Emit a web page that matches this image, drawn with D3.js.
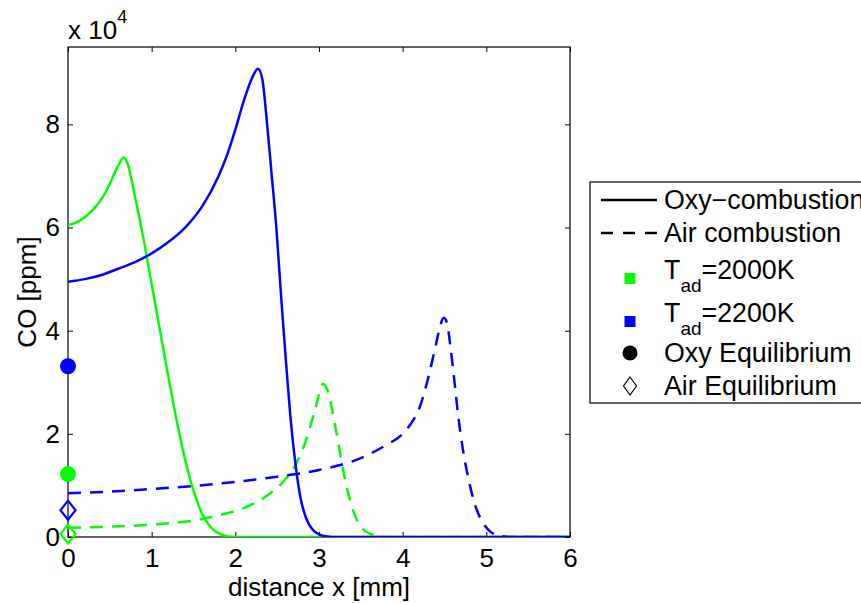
<!DOCTYPE html>
<html>
<head>
<meta charset="utf-8">
<script src="https://cdn.jsdelivr.net/npm/d3@7"></script>
<style>
  html, body { margin: 0; padding: 0; background: #fff; }
  svg { display: block; font-family: "Liberation Sans", Arial, Helvetica, sans-serif; }
</style>
</head>
<body>
<svg id="chart" width="861" height="603"></svg>
<script>
// ---------------- DATA (CO in ppm, distance in mm) ----------------
const xTicks = [0, 1, 2, 3, 4, 5, 6];
const yTicks = [0, 20000, 40000, 60000, 80000];
const yTickLabels = ["0", "2", "4", "6", "8"];

// Oxy-combustion, Tad = 2000K (green solid)
const oxy2000_x = [0, 0.1, 0.2, 0.3, 0.4, 0.5, 0.6, 0.67, 0.72, 0.8, 0.9, 1.0, 1.1, 1.2, 1.3, 1.4, 1.5, 1.6, 1.7, 1.8, 1.9, 2.0, 3.0, 4.0, 5.0, 6.0];
const oxy2000_y = [60500, 61000, 62000, 63500, 65500, 68500, 72000, 73600, 72000, 66000, 58000, 49000, 40000, 31000, 22500, 15000, 9000, 4600, 2000, 700, 150, 0, 0, 0, 0, 0];

// Oxy-combustion, Tad = 2200K (blue solid)
const oxy2200_x = [0, 0.2, 0.4, 0.6, 0.8, 1.0, 1.2, 1.4, 1.6, 1.8, 1.9, 2.0, 2.1, 2.2, 2.27, 2.32, 2.38, 2.43, 2.49, 2.55, 2.61, 2.66, 2.72, 2.78, 2.85, 2.92, 3.0, 3.1, 3.2, 4.0, 5.0, 6.0];
const oxy2200_y = [49500, 50000, 50800, 52000, 53300, 55000, 57200, 60000, 64000, 70000, 74000, 79000, 84500, 89000, 90800, 89000, 80000, 71000, 60000, 46000, 33000, 23000, 14000, 7500, 3500, 1500, 500, 100, 0, 0, 0, 0];

// Air combustion, Tad = 2000K (green dashed)
const air2000_x = [0, 0.5, 1.0, 1.5, 1.8, 2.1, 2.36, 2.56, 2.72, 2.85, 2.95, 3.05, 3.1, 3.2, 3.3, 3.4, 3.5, 3.6, 3.7, 3.8, 4.5, 5.0, 6.0];
const air2000_y = [1800, 2000, 2400, 3200, 4200, 5600, 7800, 10500, 14000, 19000, 24500, 29700, 28500, 21000, 12000, 5500, 2000, 700, 200, 0, 0, 0, 0];

// Air combustion, Tad = 2200K (blue dashed)
const air2200_x = [0, 0.5, 1.0, 1.5, 2.0, 2.5, 3.0, 3.5, 3.8, 4.0, 4.1, 4.2, 4.3, 4.4, 4.45, 4.49, 4.53, 4.57, 4.62, 4.66, 4.72, 4.79, 4.87, 4.95, 5.05, 5.15, 5.3, 6.0];
const air2200_y = [8500, 8800, 9300, 9900, 10700, 11700, 13000, 15300, 17800, 20000, 22000, 25000, 30500, 37500, 41000, 42500, 41500, 37000, 30000, 24000, 17000, 11000, 6000, 3000, 1000, 300, 0, 0];

// Equilibrium values at x = 0
const oxyEq = { x: 0, green: 12200, blue: 33100 };
const airEq = { x: 0, green: 600, blue: 5200 };

const legendLabels = ["Oxy\u2212combustion", "Air combustion", "T", "T", "Oxy Equilibrium", "Air Equilibrium"];

// ---------------- CHART ----------------
const GREEN = "#00ff00", BLUE = "#0000ff";
const svg = d3.select("#chart");
const L = 68, R = 570, T = 47, B = 537;
const FS = 26;
const LFS = 26.8;

const x = d3.scaleLinear().domain([0, 6]).range([L, R]);
const y = d3.scaleLinear().domain([0, 95000]).range([B, T]);

svg.append("defs").append("clipPath").attr("id", "clip")
  .append("rect").attr("x", L).attr("y", T).attr("width", R - L).attr("height", B - T);

// axes (ticks inside, box)
const tickLen = 5;
const axB = svg.append("g").attr("transform", `translate(0,${B})`)
  .call(d3.axisBottom(x).tickValues(xTicks).tickFormat(d3.format("d")).tickSizeInner(-tickLen).tickSizeOuter(0).tickPadding(12));
const axT = svg.append("g").attr("transform", `translate(0,${T})`)
  .call(d3.axisTop(x).tickValues(xTicks).tickFormat("").tickSizeInner(-tickLen).tickSizeOuter(0));
const axL = svg.append("g").attr("transform", `translate(${L},0)`)
  .call(d3.axisLeft(y).tickValues(yTicks).tickFormat((d, i) => yTickLabels[i]).tickSizeInner(-tickLen).tickSizeOuter(0).tickPadding(8));
const axR = svg.append("g").attr("transform", `translate(${R},0)`)
  .call(d3.axisRight(y).tickValues(yTicks).tickFormat("").tickSizeInner(-tickLen).tickSizeOuter(0));
[axB, axT, axL, axR].forEach(g => {
  g.select(".domain").remove();
  g.selectAll(".tick line").attr("stroke", "#000").attr("stroke-width", 1);
  g.selectAll("text").attr("font-size", FS).attr("fill", "#000").attr("font-family", "Liberation Sans, Arial, sans-serif");
});
svg.append("rect").attr("x", L).attr("y", T).attr("width", R - L).attr("height", B - T)
  .attr("fill", "none").attr("stroke", "#000").attr("stroke-width", 1.2);

// exponent label
const ex = svg.append("text").attr("x", L).attr("y", 39).attr("font-size", FS).attr("fill", "#000");
ex.append("tspan").text("x 10");
ex.append("tspan").attr("font-size", 18).attr("dy", -16).text("4");

// axis labels
svg.append("text").attr("x", (L + R) / 2).attr("y", 596).attr("text-anchor", "middle")
  .attr("font-size", FS).text("distance x [mm]");
svg.append("text").attr("transform", `translate(36,${(T + B) / 2}) rotate(-90)`).attr("text-anchor", "middle")
  .attr("font-size", FS).text("CO [ppm]");

// curves
const line = d3.line().x(d => x(d[0])).y(d => y(d[1])).curve(d3.curveMonotoneX);
const series = [
  { xs: oxy2000_x, ys: oxy2000_y, color: GREEN, dash: null },
  { xs: air2000_x, ys: air2000_y, color: GREEN, dash: "13,9" },
  { xs: oxy2200_x, ys: oxy2200_y, color: BLUE, dash: null },
  { xs: air2200_x, ys: air2200_y, color: BLUE, dash: "13,9" }
];
const plot = svg.append("g").attr("clip-path", "url(#clip)");
series.forEach(s => {
  plot.append("path").datum(d3.zip(s.xs, s.ys)).attr("d", line)
    .attr("fill", "none").attr("stroke", s.color).attr("stroke-width", 2.5)
    .attr("stroke-dasharray", s.dash).attr("stroke-linejoin", "round");
});

// equilibrium markers
const diamond = (cx, cy, hw, hh) => `M${cx},${cy - hh}L${cx + hw},${cy}L${cx},${cy + hh}L${cx - hw},${cy}Z`;
[[oxyEq.green, GREEN], [oxyEq.blue, BLUE]].forEach(([v, c]) => {
  svg.append("circle").attr("cx", x(oxyEq.x)).attr("cy", y(v)).attr("r", 8).attr("fill", c);
});
[[airEq.green, GREEN], [airEq.blue, BLUE]].forEach(([v, c]) => {
  svg.append("path").attr("d", diamond(x(airEq.x), y(v), 7.5, 9.5))
    .attr("fill", "none").attr("stroke", c).attr("stroke-width", 2.2);
});

// legend
const lg = svg.append("g");
lg.append("rect").attr("x", 590).attr("y", 182).attr("width", 300).attr("height", 221)
  .attr("fill", "#fff").attr("stroke", "#000").attr("stroke-width", 1.2);
const tx = 664, mx = 630;
const rows = [200, 233, 270, 313, 353, 386];
lg.append("line").attr("x1", 601).attr("x2", 657).attr("y1", rows[0]).attr("y2", rows[0]).attr("stroke", "#000").attr("stroke-width", 2.5);
lg.append("line").attr("x1", 601).attr("x2", 657).attr("y1", rows[1]).attr("y2", rows[1]).attr("stroke", "#000").attr("stroke-width", 2.5).attr("stroke-dasharray", "12,10");
lg.append("rect").attr("x", mx - 5.5).attr("y", rows[2] + 3).attr("width", 11).attr("height", 11).attr("fill", GREEN);
lg.append("rect").attr("x", mx - 5.5).attr("y", rows[3] + 3).attr("width", 11).attr("height", 11).attr("fill", BLUE);
lg.append("circle").attr("cx", mx).attr("cy", rows[4]).attr("r", 7.5).attr("fill", "#000");
lg.append("path").attr("d", diamond(mx, rows[5], 6.5, 9)).attr("fill", "none").attr("stroke", "#000").attr("stroke-width", 1.2);

function legText(i, withSub, rest) {
  const t = lg.append("text").attr("x", tx).attr("y", rows[i] + 9).attr("font-size", LFS).attr("fill", "#000");
  if (withSub) {
    t.append("tspan").text(legendLabels[i]);
    t.append("tspan").attr("font-size", 19).attr("dy", 13).text("ad");
    t.append("tspan").attr("dy", -13).text(rest);
  } else {
    t.text(legendLabels[i]);
  }
}
legText(0, false);
legText(1, false);
legText(2, true, "=2000K");
legText(3, true, "=2200K");
legText(4, false);
legText(5, false);
</script>
</body>
</html>
